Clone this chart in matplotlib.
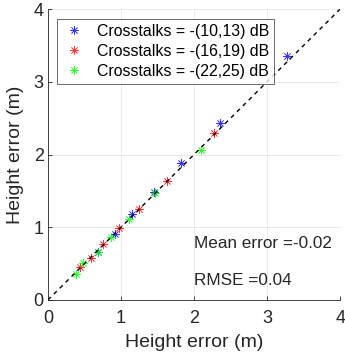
import matplotlib

matplotlib.use("Agg")
import matplotlib.pyplot as plt

plt.rcParams["font.family"] = ["Liberation Sans", "DejaVu Sans"]

# (true height error, estimated height error) per crosstalk level
blue_x = [0.69, 0.92, 1.155, 1.45, 1.82, 2.36, 3.27]
blue_y = [0.66, 0.91, 1.18, 1.49, 1.88, 2.43, 3.35]
red_x = [0.44, 0.59, 0.76, 0.97, 1.24, 1.63, 2.27]
red_y = [0.45, 0.58, 0.77, 0.99, 1.25, 1.64, 2.29]
green_x = [0.39, 0.48, 0.68, 0.86, 1.11, 1.47, 2.09]
green_y = [0.36, 0.51, 0.66, 0.86, 1.12, 1.47, 2.06]
labels = ["Crosstalks = -(10,13) dB", "Crosstalks = -(16,19) dB", "Crosstalks = -(22,25) dB"]
mean_err = -0.02
rmse = 0.04

fig = plt.figure(figsize=(3.45, 3.61), dpi=100)
ax = fig.add_axes([0.139, 0.169, 0.847, 0.806])

asterisk = (8, 2, 0)
for xs, ys, c, lab in zip([blue_x, red_x, green_x], [blue_y, red_y, green_y],
                          ["#0000ff", "#ff0000", "#00ff00"], labels):
    ax.plot(xs, ys, linestyle="none", marker=asterisk, color=c, markersize=6,
            markeredgewidth=0.5, alpha=0.8, label=lab)

ax.plot([0, 4], [0, 4], "k--", lw=1, dashes=(3, 3))

ax.text(2.0, 0.78, f"Mean error ={mean_err:.2f}", fontsize=12.3, va="center", color="#262626")
ax.text(2.0, 0.27, f"RMSE ={rmse:.2f}", fontsize=12.3, va="center", color="#262626")

ax.set_xlim(0, 4)
ax.set_ylim(0, 4)
ax.set_xticks(range(5))
ax.set_yticks(range(5))
ax.grid(color="#e6e6e6", lw=0.6)
ax.set_axisbelow(True)
ax.tick_params(labelsize=13, direction="in", length=3, colors="#262626", width=0.6, pad=3)
ax.tick_params(axis="x", pad=7)
for s in ax.spines.values():
    s.set_color("#262626")
    s.set_linewidth(0.6)
ax.spines["top"].set_visible(False)
ax.spines["right"].set_visible(False)
ax.set_xlabel("Height error (m)", fontsize=14, color="#262626", labelpad=5)
ax.set_ylabel("Height error (m)", fontsize=14, color="#262626", labelpad=7)

leg = ax.legend(loc="upper left", bbox_to_anchor=(0.031, 0.966), fontsize=11.4,
                frameon=True, fancybox=False, edgecolor="#262626",
                handletextpad=0.6, borderpad=0.3, labelspacing=0.32,
                handlelength=1.6, borderaxespad=0)
leg.get_frame().set_linewidth(0.6)

fig.savefig("out.png", dpi=100)
